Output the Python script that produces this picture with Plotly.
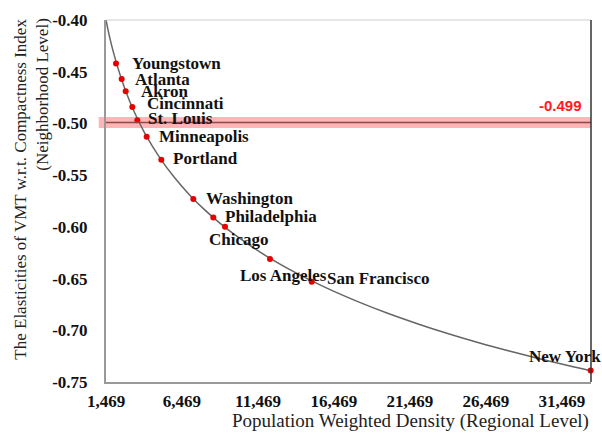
import plotly.graph_objects as go

# ---- data ----
cities = ["Youngstown", "Atlanta", "Akron", "Cincinnati", "St. Louis", "Minneapolis",
          "Portland", "Washington", "Philadelphia", "Chicago", "Los Angeles",
          "San Francisco", "New York"]
density = [2127, 2500, 2765, 3200, 3530, 4144, 5109, 7214, 8530, 9298, 12258, 15000, 33357]
elasticity = [-0.442, -0.457, -0.469, -0.484, -0.497, -0.513, -0.535, -0.573, -0.591,
              -0.600, -0.631, -0.653, -0.739]

curve_x = [1469, 1700, 2000, 2500, 3000, 3500, 4000, 5000, 6000, 7000, 8000, 9000, 10000,
           12000, 14000, 16000, 18000, 20000, 22000, 24000, 26000, 28000, 30000, 32000, 33357]
curve_y = [-0.400, -0.416, -0.4335, -0.4577, -0.4775, -0.4943, -0.5088, -0.5330, -0.5528,
           -0.5696, -0.5841, -0.5969, -0.6083, -0.6281, -0.6448, -0.6593, -0.6721, -0.6836,
           -0.6939, -0.7034, -0.7121, -0.7201, -0.7276, -0.7346, -0.7391]

mean_value = -0.499
band_half = 0.0053

x_tick_vals = [1469, 6469, 11469, 16469, 21469, 26469, 31469]
x_tick_text = ["1,469", "6,469", "11,469", "16,469", "21,469", "26,469", "31,469"]
y_tick_vals = [-0.40, -0.45, -0.50, -0.55, -0.60, -0.65, -0.70, -0.75]
y_tick_text = ["-0.40", "-0.45", "-0.50", "-0.55", "-0.60", "-0.65", "-0.70", "-0.75"]

# label offsets (pixels) relative to the point: (xshift, yshift)
label_offsets = {
    "Youngstown": (14, 0), "Atlanta": (11, -1), "Akron": (13, 0), "Cincinnati": (13, 3),
    "St. Louis": (9, 2), "Minneapolis": (10, 0), "Portland": (10, 1), "Washington": (11, 0),
    "Philadelphia": (10, 1), "Chicago": (-18, -13), "Los Angeles": (-32, -17),
    "San Francisco": (13, 3), "New York": (-64, 14),
}

SERIF = "Liberation Serif, Times New Roman, serif"

fig = go.Figure()

fig.add_trace(go.Scatter(x=curve_x, y=curve_y, mode="lines", line=dict(color="#666666", width=1.5, shape="spline"),
                         hoverinfo="skip", showlegend=False))
fig.add_trace(go.Scatter(x=density, y=elasticity, mode="markers", text=cities,
                         marker=dict(color="#e60000", size=6), cliponaxis=False, showlegend=False))

# band around the mean value
fig.add_shape(type="rect", xref="paper", x0=-0.015, x1=1, yref="y",
              y0=mean_value - band_half, y1=mean_value + band_half,
              fillcolor="rgba(255,90,90,0.45)", line_width=0, layer="below")
fig.add_shape(type="line", xref="paper", x0=0, x1=1, yref="y", y0=mean_value, y1=mean_value,
              line=dict(color="#8a4a4a", width=1.5))
# borders: top light gray, right dark
fig.add_shape(type="line", xref="paper", yref="paper", x0=0, x1=1, y0=1, y1=1,
              line=dict(color="#cccccc", width=1))
fig.add_shape(type="line", xref="paper", yref="paper", x0=1, x1=1, y0=0, y1=1,
              line=dict(color="#333333", width=1.5))

for c, xv, yv in zip(cities, density, elasticity):
    dx, dy = label_offsets[c]
    fig.add_annotation(x=xv, y=yv, text=c, showarrow=False, xanchor="left", yanchor="middle",
                       xshift=dx, yshift=dy,
                       font=dict(family=SERIF, size=17, color="#111111", weight="bold"))

fig.add_annotation(xref="paper", x=0.9856, y=mean_value, yref="y", text="-0.499", showarrow=False,
                   xanchor="right", yanchor="middle", yshift=17,
                   font=dict(family="Liberation Sans, Arial, sans-serif", size=15, color="#ff1a1a", weight="bold"))

# axis titles as annotations
fig.add_annotation(xref="paper", yref="paper", x=0.6276, y=-0.1085,
                   text="Population Weighted Density (Regional Level)", showarrow=False,
                   xanchor="center", yanchor="middle",
                   font=dict(family=SERIF, size=19, color="#222222"))
fig.add_annotation(xref="paper", yref="paper", x=-0.1753, y=0.534,
                   text="The Elasticities of VMT w.r.t. Compactness Index", showarrow=False,
                   textangle=-90, xanchor="center", yanchor="middle",
                   font=dict(family=SERIF, size=17, color="#222222"))
fig.add_annotation(xref="paper", yref="paper", x=-0.1299, y=0.7937,
                   text="(Neighborhood Level)", showarrow=False,
                   textangle=-90, xanchor="center", yanchor="middle",
                   font=dict(family=SERIF, size=17, color="#222222"))

fig.update_layout(
    width=602, height=433,
    margin=dict(l=106, r=11, t=16, b=51),
    paper_bgcolor="white", plot_bgcolor="white",
    showlegend=False,
    xaxis=dict(range=[1469, 33380], tickvals=x_tick_vals, ticktext=x_tick_text,
               showgrid=False, zeroline=False, showline=True, linecolor="#999999", linewidth=2,
               ticks="", ticklabelstandoff=3,
               tickfont=dict(family=SERIF, size=17, color="#111111", weight="bold")),
    yaxis=dict(range=[-0.75, -0.40], tickvals=y_tick_vals, ticktext=y_tick_text,
               showgrid=False, zeroline=False, showline=True, linecolor="#999999", linewidth=2,
               ticks="", ticklabelstandoff=13,
               tickfont=dict(family=SERIF, size=17, color="#111111", weight="bold")),
)

fig.write_html("out.html", config={"displayModeBar": False},
               post_script="document.body.style.margin='0';document.body.style.overflow='hidden';")
